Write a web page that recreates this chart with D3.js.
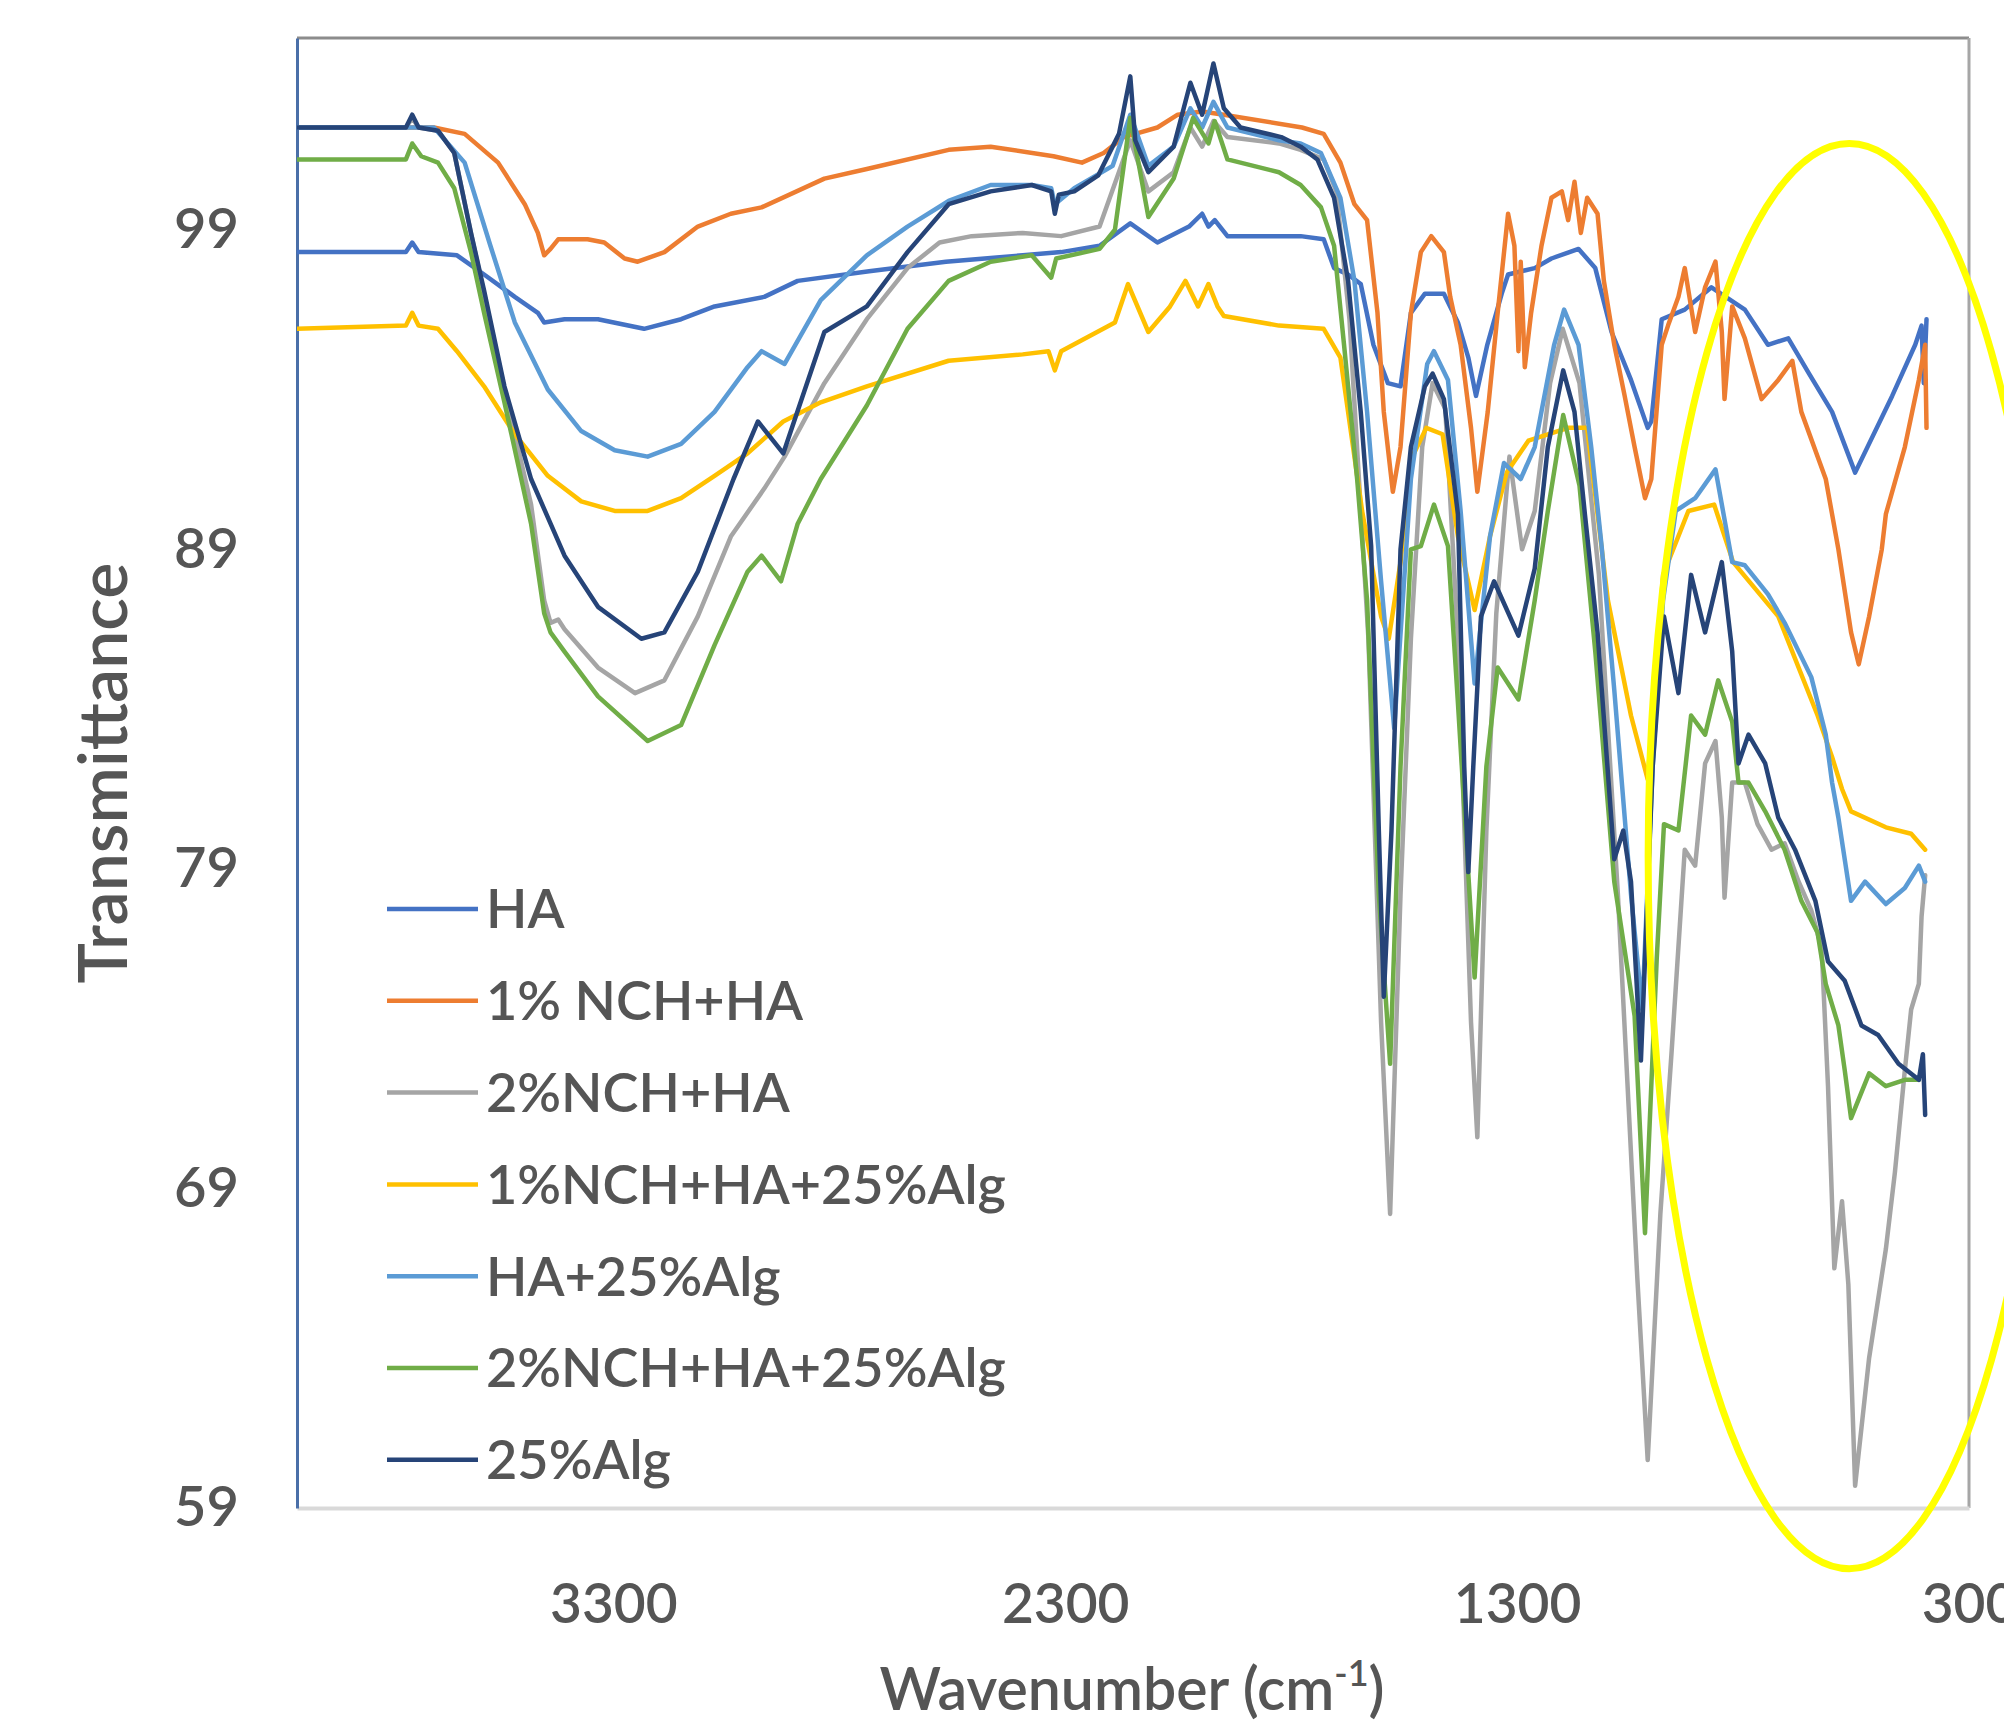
<!DOCTYPE html>
<html>
<head>
<meta charset="utf-8">
<script src="https://cdn.jsdelivr.net/npm/d3@7"></script>
<style>
  html, body { margin: 0; padding: 0; background: #ffffff; }
  svg { display: block; }
  text { font-family: "Lato", "Open Sans", sans-serif; fill: #555555; }
</style>
</head>
<body>
<svg id="chart" width="2004" height="1722"></svg>
<script>
// FTIR spectra: [wavenumber (cm-1), transmittance]
const haPoints = [
  [4000,98.3],[3759,98.3],[3745,98.6],[3731,98.3],[3646,98.2],[3586,97.6],[3518,96.9],[3467,96.4],
  [3453,96.1],[3408,96.2],[3334,96.2],[3232,95.9],[3150,96.2],[3076,96.6],[2966,96.9],[2892,97.4],
  [2734,97.7],[2564,98.0],[2394,98.2],[2309,98.3],[2224,98.5],[2156,99.2],[2096,98.6],[2026,99.1],
  [1997,99.5],[1983,99.1],[1969,99.3],[1941,98.8],[1827,98.8],[1779,98.8],[1728,98.7],[1705,97.8],
  [1674,97.6],[1646,97.3],[1618,95.4],[1586,94.2],[1558,94.1],[1535,96.4],[1504,97.0],[1462,97.0],
  [1431,96.1],[1408,95.0],[1391,93.8],[1366,95.4],[1334,97.0],[1320,97.6],[1261,97.8],[1224,98.1],
  [1164,98.4],[1127,97.8],[1091,95.8],[1048,94.3],[1011,92.8],[1003,93.0],[980,96.2],[929,96.5],
  [870,97.2],[796,96.5],[745,95.4],[700,95.6],[654,94.5],[603,93.3],[552,91.4],[470,93.8],
  [419,95.4],[405,96.0],[400,94.2],[394,96.2]
];

const nch1Points = [
  [4000,102.2],[3697,102.2],[3629,102.0],[3555,101.1],[3496,99.8],[3467,98.9],[3453,98.2],[3439,98.4],
  [3422,98.7],[3357,98.7],[3320,98.6],[3275,98.1],[3246,98.0],[3187,98.3],[3113,99.1],[3040,99.5],
  [2972,99.7],[2833,100.6],[2739,100.9],[2558,101.5],[2465,101.6],[2326,101.3],[2263,101.1],[2215,101.4],
  [2170,101.9],[2145,102.0],[2096,102.2],[2051,102.6],[1997,102.7],[1949,102.6],[1776,102.2],[1728,102.0],
  [1691,101.1],[1660,99.8],[1632,99.3],[1609,96.4],[1595,93.3],[1575,90.8],[1558,92.2],[1535,96.4],
  [1513,98.3],[1490,98.8],[1462,98.3],[1448,96.9],[1425,95.4],[1402,92.8],[1388,90.8],[1365,93.3],
  [1343,96.4],[1320,99.5],[1306,98.5],[1297,95.2],[1292,98.0],[1283,94.7],[1269,96.4],[1246,98.5],
  [1224,100.0],[1201,100.2],[1187,99.3],[1173,100.5],[1159,98.9],[1145,100.0],[1122,99.5],[1108,97.4],
  [1085,95.4],[1062,93.8],[1040,92.2],[1017,90.6],[1003,91.2],[980,95.4],[966,96.0],[943,96.9],
  [929,97.8],[906,95.8],[884,97.2],[861,98.0],[847,95.8],[841,93.7],[824,96.6],[796,95.6],
  [759,93.7],[722,94.3],[691,94.9],[671,93.3],[617,91.2],[589,89.0],[561,86.4],[544,85.4],
  [521,86.9],[493,89.0],[484,90.1],[442,92.2],[411,94.3],[397,95.4],[394,92.8]
];

const nch2Points = [
  [4000,102.2],[3759,102.2],[3745,102.5],[3731,102.2],[3688,102.1],[3652,101.4],[3615,98.9],[3586,97.0],
  [3541,94.0],[3482,90.4],[3453,87.4],[3439,86.7],[3422,86.8],[3408,86.5],[3334,85.3],[3252,84.5],
  [3187,84.9],[3113,86.9],[3040,89.4],[2966,90.9],[2921,91.9],[2833,94.2],[2739,96.2],[2649,97.8],
  [2578,98.6],[2507,98.8],[2394,98.9],[2309,98.8],[2224,99.1],[2156,101.8],[2116,100.2],[2060,100.8],
  [2023,102.2],[1997,101.6],[1972,102.4],[1941,101.9],[1827,101.7],[1779,101.5],[1728,101.2],[1700,100.2],
  [1671,96.2],[1629,86.2],[1601,74.2],[1581,68.2],[1558,78.2],[1535,86.2],[1510,92.2],[1487,94.2],
  [1459,93.4],[1431,86.2],[1402,74.2],[1388,70.6],[1368,80.2],[1346,87.0],[1317,91.9],[1289,89.0],
  [1261,90.2],[1227,94.2],[1199,95.9],[1162,94.2],[1119,88.2],[1077,78.2],[1034,66.2],[1011,60.5],
  [983,68.2],[958,73.3],[929,79.6],[906,79.1],[884,82.3],[861,83.0],[847,80.6],[841,78.1],
  [824,81.7],[796,81.7],[768,80.4],[737,79.6],[708,79.8],[677,78.6],[649,77.7],[626,76.5],
  [612,72.2],[598,66.5],[581,68.6],[567,66.0],[552,59.7],[521,63.7],[484,67.1],[464,69.5],
  [442,72.7],[428,74.6],[411,75.4],[405,77.5],[397,78.8]
];

const nch1AlgPoints = [
  [4000,95.9],[3759,96.0],[3745,96.4],[3731,96.0],[3688,95.9],[3646,95.2],[3586,94.1],[3518,92.6],
  [3445,91.3],[3371,90.5],[3297,90.2],[3224,90.2],[3150,90.6],[3076,91.3],[3003,92.0],[2924,93.0],
  [2841,93.6],[2739,94.1],[2558,94.9],[2394,95.1],[2337,95.2],[2323,94.6],[2309,95.2],[2190,96.1],
  [2161,97.3],[2116,95.8],[2068,96.6],[2034,97.4],[2006,96.6],[1983,97.3],[1963,96.6],[1949,96.3],
  [1827,96.0],[1728,95.9],[1691,95.0],[1643,90.2],[1601,86.9],[1584,86.2],[1558,88.6],[1535,91.8],
  [1501,92.8],[1465,92.6],[1431,89.4],[1394,87.1],[1360,89.4],[1323,91.4],[1275,92.4],[1187,92.8],
  [1145,92.8],[1099,87.4],[1048,83.8],[1011,81.8],[977,88.2],[921,90.2],[864,90.4],[822,88.6],
  [722,86.9],[635,83.8],[603,82.5],[581,81.5],[561,80.8],[484,80.3],[428,80.1],[397,79.6]
];

const haAlgPoints = [
  [4000,102.2],[3697,102.2],[3629,101.1],[3572,98.5],[3518,96.1],[3445,94.0],[3371,92.7],[3297,92.1],
  [3224,91.9],[3150,92.3],[3076,93.3],[3003,94.7],[2972,95.2],[2921,94.8],[2841,96.8],[2739,98.2],
  [2649,99.1],[2558,99.9],[2465,100.4],[2374,100.4],[2331,100.3],[2323,99.8],[2280,100.3],[2195,101.0],
  [2156,102.6],[2116,101.0],[2060,101.6],[2023,102.8],[1997,102.2],[1972,103.0],[1941,102.2],[1827,101.8],
  [1779,101.7],[1734,101.4],[1691,100.0],[1660,97.4],[1632,93.3],[1601,88.0],[1572,83.4],[1535,91.2],
  [1499,94.8],[1484,95.2],[1453,94.3],[1425,90.2],[1394,84.8],[1360,89.4],[1329,91.7],[1292,91.2],
  [1261,92.2],[1218,95.4],[1196,96.5],[1164,95.4],[1136,92.2],[1113,89.1],[1085,84.6],[1048,78.2],
  [1023,74.6],[1000,82.2],[977,87.4],[949,90.2],[906,90.6],[861,91.5],[824,88.6],[796,88.5],
  [745,87.6],[708,86.7],[649,85.0],[617,83.2],[603,81.7],[589,80.6],[561,78.0],[530,78.6],
  [484,77.9],[442,78.4],[411,79.1],[397,78.6]
];

const nch2AlgPoints = [
  [4000,101.2],[3759,101.2],[3745,101.7],[3725,101.3],[3688,101.1],[3652,100.3],[3615,98.3],[3586,96.4],
  [3541,93.6],[3482,89.8],[3453,87.0],[3439,86.4],[3408,85.8],[3334,84.4],[3224,83.0],[3150,83.5],
  [3076,86.0],[3003,88.3],[2972,88.8],[2929,88.0],[2892,89.8],[2841,91.2],[2739,93.5],[2649,95.9],
  [2558,97.4],[2465,98.0],[2374,98.2],[2331,97.5],[2320,98.1],[2224,98.4],[2190,99.0],[2156,102.5],
  [2116,99.4],[2060,100.6],[2017,102.5],[1983,101.7],[1969,102.4],[1941,101.2],[1827,100.8],[1779,100.4],
  [1734,99.7],[1705,98.5],[1683,95.4],[1654,91.2],[1632,87.4],[1606,78.2],[1581,72.9],[1558,82.2],
  [1535,89.0],[1513,89.1],[1484,90.4],[1453,89.1],[1431,84.2],[1394,75.6],[1368,82.2],[1343,85.3],
  [1297,84.3],[1261,87.4],[1232,90.2],[1198,93.2],[1162,91.0],[1127,85.8],[1085,78.6],[1040,74.4],
  [1017,67.6],[991,76.2],[975,80.4],[943,80.2],[915,83.8],[884,83.2],[855,84.9],[824,83.6],
  [810,81.7],[788,81.7],[751,80.8],[708,79.6],[671,78.0],[635,77.0],[617,75.4],[589,74.1],
  [575,72.7],[561,71.2],[521,72.6],[484,72.2],[442,72.4],[411,72.4]
];

const algPoints = [
  [4000,102.2],[3759,102.2],[3745,102.6],[3731,102.2],[3688,102.1],[3652,101.4],[3615,98.9],[3586,97.1],
  [3541,94.1],[3482,91.2],[3408,88.8],[3334,87.2],[3238,86.2],[3187,86.4],[3113,88.3],[3034,91.2],
  [2980,93.0],[2924,92.0],[2833,95.8],[2739,96.6],[2649,98.3],[2558,99.8],[2465,100.2],[2374,100.4],
  [2331,100.2],[2323,99.5],[2314,100.1],[2280,100.2],[2227,100.7],[2181,102.0],[2156,103.8],[2145,101.8],
  [2116,100.8],[2060,101.6],[2023,103.6],[1997,102.6],[1972,104.2],[1949,102.8],[1912,102.2],[1822,101.9],
  [1779,101.6],[1742,101.2],[1705,100.0],[1674,97.4],[1646,93.3],[1623,89.1],[1606,80.2],[1595,75.0],
  [1578,80.2],[1558,89.0],[1535,92.2],[1504,94.1],[1487,94.5],[1462,93.7],[1431,90.1],[1417,82.2],
  [1408,78.9],[1397,82.2],[1380,86.9],[1351,88.0],[1297,86.3],[1261,88.4],[1232,92.2],[1198,94.6],
  [1173,93.3],[1150,90.1],[1122,86.4],[1085,79.3],[1065,80.2],[1048,78.6],[1026,73.0],[1000,82.2],
  [975,86.9],[943,84.5],[915,88.2],[884,86.4],[847,88.6],[824,85.8],[810,82.3],[788,83.2],
  [751,82.3],[722,80.6],[685,79.6],[640,78.0],[612,76.1],[575,75.5],[538,74.1],[501,73.8],
  [456,72.9],[411,72.4],[402,73.2],[397,71.3]
];

const seriesNames = ["HA", "1% NCH+HA", "2%NCH+HA", "1%NCH+HA+25%Alg", "HA+25%Alg", "2%NCH+HA+25%Alg", "25%Alg"];
const seriesColors = ["#4472C4", "#ED7D31", "#A5A5A5", "#FFC000", "#5B9BD5", "#70AD47", "#264478"];
const seriesPoints = [haPoints, nch1Points, nch2Points, nch1AlgPoints, haAlgPoints, nch2AlgPoints, algPoints];

const xTicks = [3300, 2300, 1300, 300];
const yTicks = [59, 69, 79, 89, 99];

// highlighted low-wavenumber region (wavenumber span, transmittance span)
const highlightRegion = { wnFrom: 1010, wnTo: 120, tLow: 57.1, tHigh: 101.7 };

const svg = d3.select("#chart");
const x = d3.scaleLinear().domain([4000, 300]).range([297, 1969]);
const y = d3.scaleLinear().domain([59, 105]).range([1508, 38]);

// plot frame: top and right borders
svg.append("line").attr("x1", x(4000)).attr("x2", x(300)).attr("y1", y(105)).attr("y2", y(105))
  .attr("stroke", "#8c8c8c").attr("stroke-width", 3);
svg.append("line").attr("x1", x(300)).attr("x2", x(300)).attr("y1", y(105)).attr("y2", y(59))
  .attr("stroke", "#a6a6a6").attr("stroke-width", 3);

// axes
const xAxis = svg.append("g").attr("transform", `translate(0,${y(59)})`)
  .call(d3.axisBottom(x).tickValues(xTicks).tickSize(0).tickSizeOuter(0).tickPadding(76).tickFormat(d3.format("d")));
xAxis.select(".domain").attr("stroke", "#d9d9d9").attr("stroke-width", 4);
xAxis.selectAll("text").attr("font-size", 55).attr("font-weight", 600).attr("fill", "#555555")
  .style("font-family", "Lato, 'Open Sans', sans-serif");

const yAxis = svg.append("g").attr("transform", `translate(${x(4000)},0)`)
  .call(d3.axisLeft(y).tickValues(yTicks).tickSize(0).tickSizeOuter(0).tickPadding(58).tickFormat(d3.format("d")));
yAxis.select(".domain").attr("stroke", "#4a6fa8").attr("stroke-width", 3);
yAxis.selectAll("text").attr("font-size", 56).attr("font-weight", 600).attr("fill", "#555555")
  .style("font-family", "Lato, 'Open Sans', sans-serif");

// spectra
svg.append("clipPath").attr("id", "plotClip").append("rect")
  .attr("x", x(4000)).attr("y", y(105)).attr("width", x(300) - x(4000)).attr("height", y(59) - y(105));

const line = d3.line().x(d => x(d[0])).y(d => y(d[1]));
const plot = svg.append("g").attr("clip-path", "url(#plotClip)");
seriesPoints.forEach((pts, i) => {
  plot.append("path")
    .datum(pts)
    .attr("d", line)
    .attr("fill", "none")
    .attr("stroke", seriesColors[i])
    .attr("stroke-width", 4.5)
    .attr("stroke-linejoin", "round")
    .attr("stroke-linecap", "round");
});

// legend
const legend = svg.append("g");
seriesNames.forEach((name, i) => {
  const yy = 909 + i * 91.8;
  legend.append("line").attr("x1", 387).attr("x2", 478).attr("y1", yy).attr("y2", yy)
    .attr("stroke", seriesColors[i]).attr("stroke-width", 4.5);
  legend.append("text").attr("x", 486).attr("y", yy).attr("dy", "0.36em")
    .attr("font-size", 54).attr("font-weight", 600).text(name);
});

// axis titles
svg.append("text")
  .attr("transform", `translate(127,773) rotate(-90)`)
  .attr("text-anchor", "middle").attr("font-size", 68).attr("font-weight", 600)
  .text("Transmittance");

const xt = svg.append("text").attr("x", 1132).attr("y", 1710).attr("text-anchor", "middle")
  .attr("font-size", 59).attr("font-weight", 600);
xt.append("tspan").text("Wavenumber (cm");
xt.append("tspan").attr("font-size", 36).attr("dy", -24).text("-1");
xt.append("tspan").attr("dy", 24).text(")");

// highlight ellipse around the low-wavenumber region
const ex0 = x(highlightRegion.wnFrom), ex1 = x(highlightRegion.wnTo);
const ey0 = y(highlightRegion.tHigh), ey1 = y(highlightRegion.tLow);
svg.append("ellipse")
  .attr("cx", (ex0 + ex1) / 2).attr("cy", (ey0 + ey1) / 2)
  .attr("rx", (ex1 - ex0) / 2).attr("ry", (ey1 - ey0) / 2)
  .attr("fill", "none").attr("stroke", "#FFFF00").attr("stroke-width", 7);
</script>
</body>
</html>
